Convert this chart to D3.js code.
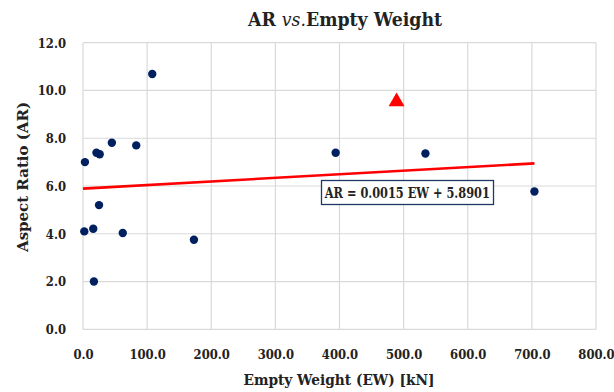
<!DOCTYPE html>
<html><head><meta charset="utf-8">
<script src="https://cdn.jsdelivr.net/npm/d3@7"></script>
<style>body{margin:0;background:#fff}svg{display:block}
svg text{font-family:"DejaVu Serif","Liberation Serif",serif;}</style>
</head><body>
<script>
const weights = [3, 21, 26, 45, 83, 108, 25, 2, 16, 62, 173, 17, 394, 534, 704];
const ratios  = [7.0, 7.39, 7.33, 7.81, 7.70, 10.69, 5.2, 4.1, 4.21, 4.03, 3.75, 2.0, 7.39, 7.36, 5.77];
const highlightWeight = [489];
const highlightRatio = [9.57];
const slope = 0.0015, intercept = 5.8901;
const xTicks = [0,100,200,300,400,500,600,700,800];
const yTicks = [0,2,4,6,8,10,12];

const W = 614, H = 392;
const svg = d3.select("body").append("svg").attr("width", W).attr("height", H);
const x = d3.scaleLinear().domain([0,800]).range([83,596]);
const y = d3.scaleLinear().domain([0,12]).range([329.3,42.7]);
const sx = 0.86;

const grid = svg.append("g").attr("stroke","#d9d9d9").attr("stroke-width",1.2);
grid.selectAll(".gx").data(xTicks).join("line")
  .attr("x1",d=>x(d)).attr("x2",d=>x(d)).attr("y1",y(0)).attr("y2",y(12));
grid.selectAll(".gy").data(yTicks).join("line")
  .attr("y1",d=>y(d)).attr("y2",d=>y(d)).attr("x1",x(0)).attr("x2",x(800));

const xAxis = svg.append("g").attr("transform",`translate(0,${y(0)})`)
  .call(d3.axisBottom(x).tickValues(xTicks).tickFormat(d3.format(".1f")).tickSize(0).tickPadding(20));
const yAxis = svg.append("g").attr("transform",`translate(${x(0)},0)`)
  .call(d3.axisLeft(y).tickValues(yTicks).tickFormat(d3.format(".1f")).tickSize(0).tickPadding(17/sx));
[xAxis,yAxis].forEach(a=>{
  a.select(".domain").remove();
  a.attr("font-family",null);
  a.selectAll("text").attr("font-weight","bold").attr("font-size","13.5px").attr("fill","#222")
    .attr("transform",`scale(${sx},1)`);
});

// trend line
svg.append("line")
  .attr("x1",x(0)).attr("y1",y(intercept))
  .attr("x2",x(d3.max(weights))).attr("y2",y(slope*d3.max(weights)+intercept))
  .attr("stroke","#ff0000").attr("stroke-width",2.6);

svg.append("g").selectAll("circle").data(weights.map((w,i)=>[w,ratios[i]])).join("circle")
  .attr("cx",d=>x(d[0])).attr("cy",d=>y(d[1])).attr("r",4.2).attr("fill","#002060");

svg.append("g").selectAll("path").data(highlightWeight.map((w,i)=>[w,highlightRatio[i]])).join("path")
  .attr("d",d3.symbol().type(d3.symbolTriangle).size(110))
  .attr("transform",d=>`translate(${x(d[0])},${y(d[1])+1})`)
  .attr("fill","#ff0000");

// equation box
svg.append("rect").attr("x",321.5).attr("y",180.5).attr("width",172).attr("height",24)
  .attr("fill","#fff").attr("stroke","#1f3864").attr("stroke-width",1.3);
svg.append("text").attr("x",407.3).attr("y",197.5).attr("text-anchor","middle")
  .attr("font-weight","bold").attr("font-size","14px").attr("fill","#222")
  .attr("textLength",165).attr("lengthAdjust","spacingAndGlyphs")
  .text("AR = 0.0015 EW + 5.8901");

// title
const t = svg.append("text").attr("x",345).attr("y",25.5).attr("text-anchor","middle")
  .attr("font-weight","bold").attr("font-size","18.5px").attr("fill","#222")
  .attr("textLength",194).attr("lengthAdjust","spacingAndGlyphs");
t.append("tspan").text("AR ");
t.append("tspan").attr("font-style","italic").attr("font-weight","normal").text("vs.");
t.append("tspan").text("Empty Weight");

svg.append("text").attr("x",339).attr("y",385).attr("text-anchor","middle")
  .attr("font-weight","bold").attr("font-size","15px").attr("fill","#222")
  .attr("textLength",191).attr("lengthAdjust","spacingAndGlyphs")
  .text("Empty Weight (EW) [kN]");

svg.append("text").attr("transform",`translate(28,177) rotate(-90)`).attr("text-anchor","middle")
  .attr("font-weight","bold").attr("font-size","15px").attr("fill","#222")
  .attr("textLength",150).attr("lengthAdjust","spacingAndGlyphs")
  .text("Aspect Ratio (AR)");
</script>
</body></html>
